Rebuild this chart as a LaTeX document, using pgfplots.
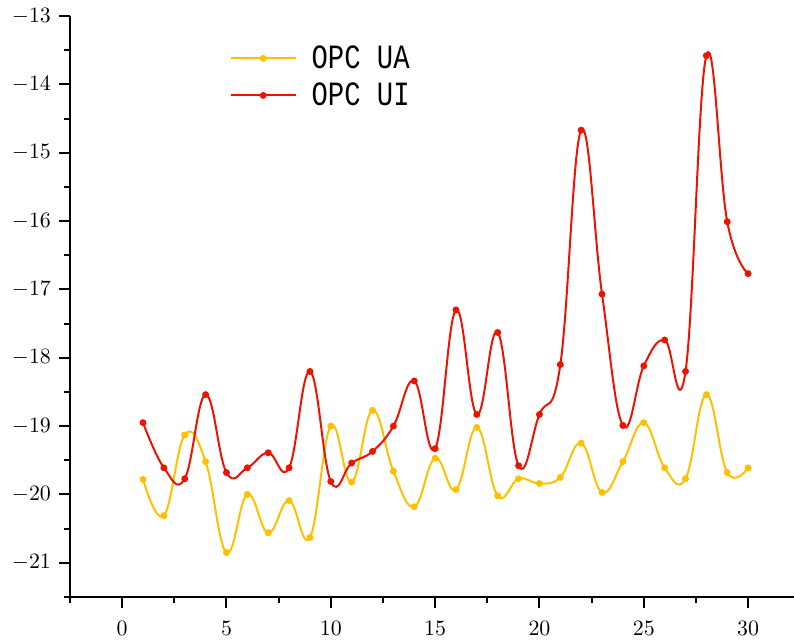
\documentclass[border=0pt]{standalone}
\usepackage{fontspec}
\usepackage{graphicx}
\usepackage{pgfplots}
\pgfplotsset{compat=1.18}
\newfontfamily\legfont{Liberation Mono}
\definecolor{uaY}{RGB}{255,192,0}
\definecolor{uiR}{RGB}{235,20,0}

\pgfplotstableread{
x y
1 -19.78
2 -20.31
3 -19.13
4 -19.52
5 -20.85
6 -20.00
7 -20.56
8 -20.09
9 -20.63
10 -19.00
11 -19.82
12 -18.77
13 -19.66
14 -20.18
15 -19.47
16 -19.93
17 -19.02
18 -20.02
19 -19.77
20 -19.84
21 -19.75
22 -19.25
23 -19.97
24 -19.52
25 -18.95
26 -19.61
27 -19.77
28 -18.54
29 -19.68
30 -19.61
}\uadata

\pgfplotstableread{
x y
1 -18.95
2 -19.61
3 -19.77
4 -18.54
5 -19.68
6 -19.61
7 -19.39
8 -19.61
9 -18.20
10 -19.81
11 -19.54
12 -19.37
13 -19.00
14 -18.34
15 -19.33
16 -17.30
17 -18.83
18 -17.63
19 -19.58
20 -18.83
21 -18.10
22 -14.67
23 -17.07
24 -18.99
25 -18.12
26 -17.74
27 -18.20
28 -13.58
29 -16.01
30 -16.77
}\uidata

\begin{document}
\begin{tikzpicture}
\begin{axis}[
  scale only axis, width=362pt, height=290.5pt,
  xmin=-2.5, xmax=32.2, ymin=-21.5, ymax=-13,
  axis x line*=bottom, axis y line*=left,
  axis line style={line width=1pt},
  xtick={0,5,...,30}, ytick={-21,-20,...,-13},
  minor xtick={-2.5,2.5,...,32.5}, minor ytick={-21.5,-20.5,...,-13.5},
  tick align=outside, major tick length=5.5pt, minor tick length=3pt,
  every tick/.style={black, line width=1pt},
  tick label style={font=\fontsize{11}{13}\selectfont},
  xticklabel style={yshift=-3pt},
  yticklabel style={xshift=-0.5pt},
  legend style={draw=none, fill=none, at={(axis cs:5.14,-13.41)}, anchor=north west,
    font=\legfont\fontsize{17}{20}\selectfont, inner sep=0pt,
    nodes={inner sep=0pt, text height=12pt, text depth=2pt},
    row sep=4.5pt, column sep=7.5pt},
  legend cell align=left,
  legend image code/.code={\draw[mark repeat=2,mark phase=2,#1] plot coordinates {(0cm,0cm) (0.57cm,0cm) (1.14cm,0cm)};},
]
\addplot[uaY, line width=1pt, smooth, tension=0.7, mark=*, mark size=1.2pt, mark options={fill=uaY, draw=uaY}] table[x=x,y=y] {\uadata};
\addlegendentry{\scalebox{0.8}[1]{OPC UA}}
\addplot[uiR, line width=1pt, smooth, tension=0.7, mark=*, mark size=1.2pt, mark options={fill=uiR, draw=uiR}] table[x=x,y=y] {\uidata};
\addlegendentry{\scalebox{0.8}[1]{OPC UI}}
\end{axis}
\pgfresetboundingbox
\path[use as bounding box] ([xshift=-35pt,yshift=-23pt]current axis.south west) rectangle ([yshift=8pt]current axis.north east);
\end{tikzpicture}
\end{document}
